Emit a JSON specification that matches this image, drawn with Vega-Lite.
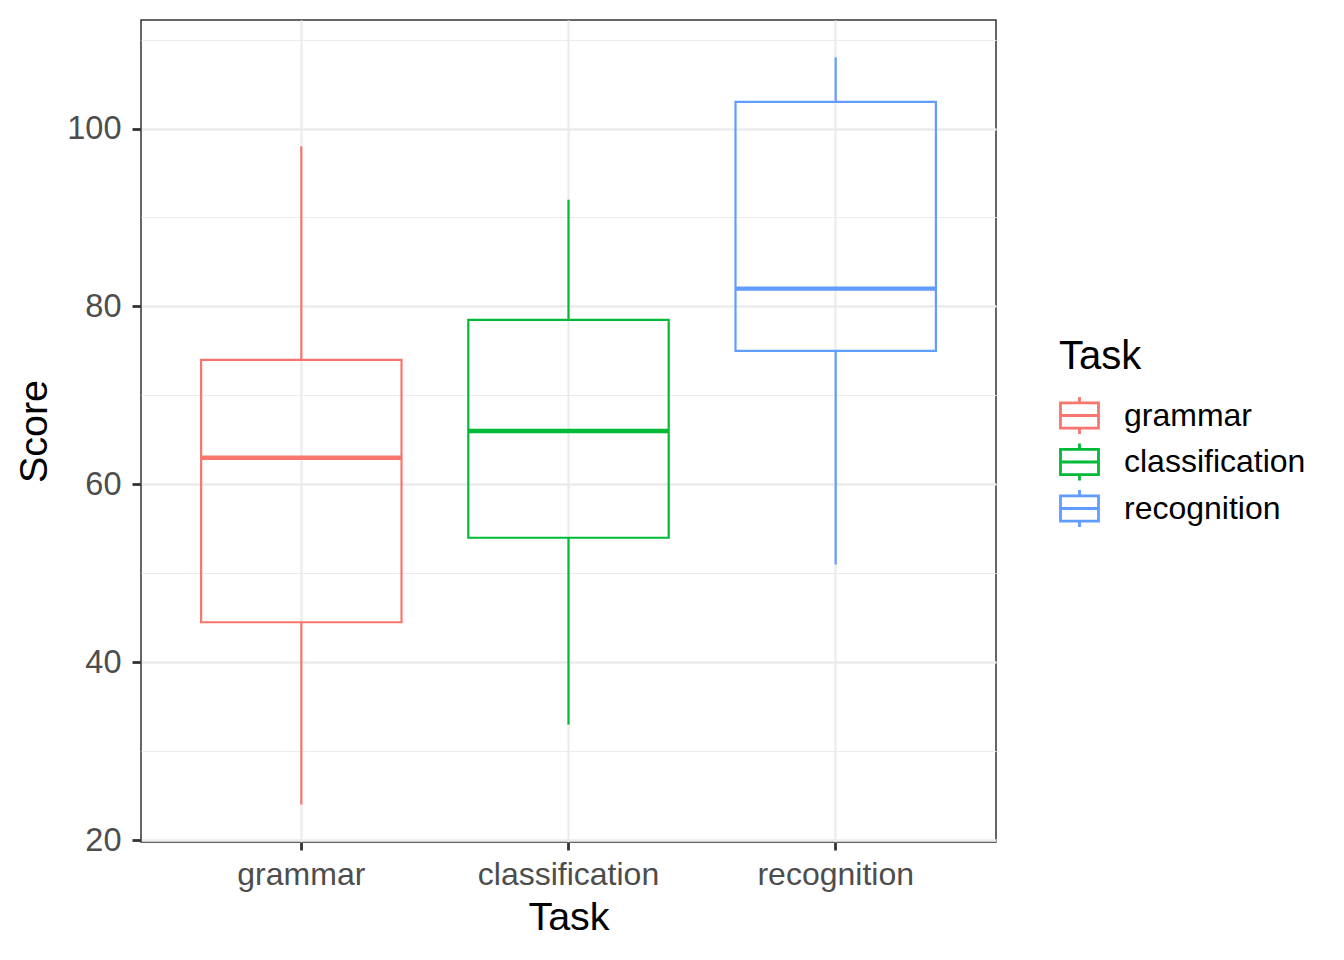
{
  "$schema": "https://vega.github.io/schema/vega-lite/v6.json",
  "autosize": {"type": "none"},
  "padding": {"left": 141, "top": 20, "right": 348, "bottom": 118},
  "width": 855,
  "height": 822,
  "background": "white",
  "config": {
    "font": "Liberation Sans",
    "view": {"stroke": "#333333", "strokeWidth": 1.5},
    "axis": {"domain": false}
  },
  "data": {
    "values": [
      {"Task": "grammar", "lower": 24, "q1": 44.5, "median": 63, "q3": 74, "upper": 98},
      {"Task": "classification", "lower": 33, "q1": 54, "median": 66, "q3": 78.5, "upper": 92},
      {"Task": "recognition", "lower": 51, "q1": 75, "median": 82, "q3": 103, "upper": 108}
    ]
  },
  "encoding": {
    "x": {
      "field": "Task", "type": "nominal",
      "sort": ["grammar", "classification", "recognition"],
      "scale": {"paddingInner": 0.25, "paddingOuter": 0.225},
      "axis": {
        "title": "Task", "titleFontSize": 39.5, "titleFontWeight": "normal", "titleColor": "black", "titlePadding": 8,
        "labelAngle": 0, "labelFontSize": 32, "labelColor": "#4D4D4D", "labelPadding": 9, "labelLimit": 400,
        "bandPosition": 0.5, "grid": true, "gridColor": "#EBEBEB", "gridWidth": 2.2,
        "tickSize": 8, "tickWidth": 2.8, "tickColor": "#333333"
      }
    },
    "color": {
      "field": "Task", "type": "nominal",
      "sort": ["grammar", "classification", "recognition"],
      "scale": {"domain": ["grammar", "classification", "recognition"], "range": ["#F8766D", "#00BA38", "#619CFF"]},
      "legend": {
        "title": "Task", "orient": "none", "legendX": 918, "legendY": 317,
        "titleFontSize": 40, "titleFontWeight": "normal", "titleColor": "black", "titlePadding": 18,
        "labelFontSize": 32, "labelColor": "black", "labelOffset": 24, "labelLimit": 400,
        "symbolType": "M-1,-0.66H1V0.66H-1Z M-1,0H1 M0,-0.66V-0.97 M0,0.66V0.97",
        "symbolSize": 1444, "symbolStrokeWidth": 2.8, "symbolFillColor": "transparent",
        "rowPadding": -2.5
      }
    }
  },
  "layer": [
    {
      "mark": {"type": "rule", "strokeWidth": 2.2},
      "encoding": {
        "y": {
          "field": "lower", "type": "quantitative",
          "scale": {"domain": [19.8, 112.2], "nice": false, "zero": false},
          "axis": {
            "title": "Score", "titleFontSize": 39.5, "titleFontWeight": "normal", "titleColor": "black", "titlePadding": 12,
            "values": [20, 30, 40, 50, 60, 70, 80, 90, 100, 110],
            "labelExpr": "datum.value % 20 === 0 ? datum.label : ''",
            "labelFontSize": 32.5, "labelColor": "#4D4D4D", "labelPadding": 11,
            "grid": true, "gridColor": "#EBEBEB",
            "gridWidth": {"condition": {"test": "datum.value % 20 === 0", "value": 2.4}, "value": 1.2},
            "tickSize": 9, "tickWidth": 2.8, "tickColor": "#333333",
            "tickOpacity": {"condition": {"test": "datum.value % 20 === 0", "value": 1}, "value": 0}
          }
        },
        "y2": {"field": "q1"}
      }
    },
    {
      "mark": {"type": "rule", "strokeWidth": 2.2},
      "encoding": {
        "y": {"field": "q3", "type": "quantitative"},
        "y2": {"field": "upper"}
      }
    },
    {
      "mark": {"type": "bar", "filled": false, "strokeWidth": 2.2},
      "encoding": {
        "y": {"field": "q1", "type": "quantitative"},
        "y2": {"field": "q3"}
      }
    },
    {
      "mark": {"type": "bar", "filled": false, "strokeWidth": 4.4},
      "encoding": {
        "y": {"field": "median", "type": "quantitative"},
        "y2": {"field": "median"}
      }
    }
  ]
}
